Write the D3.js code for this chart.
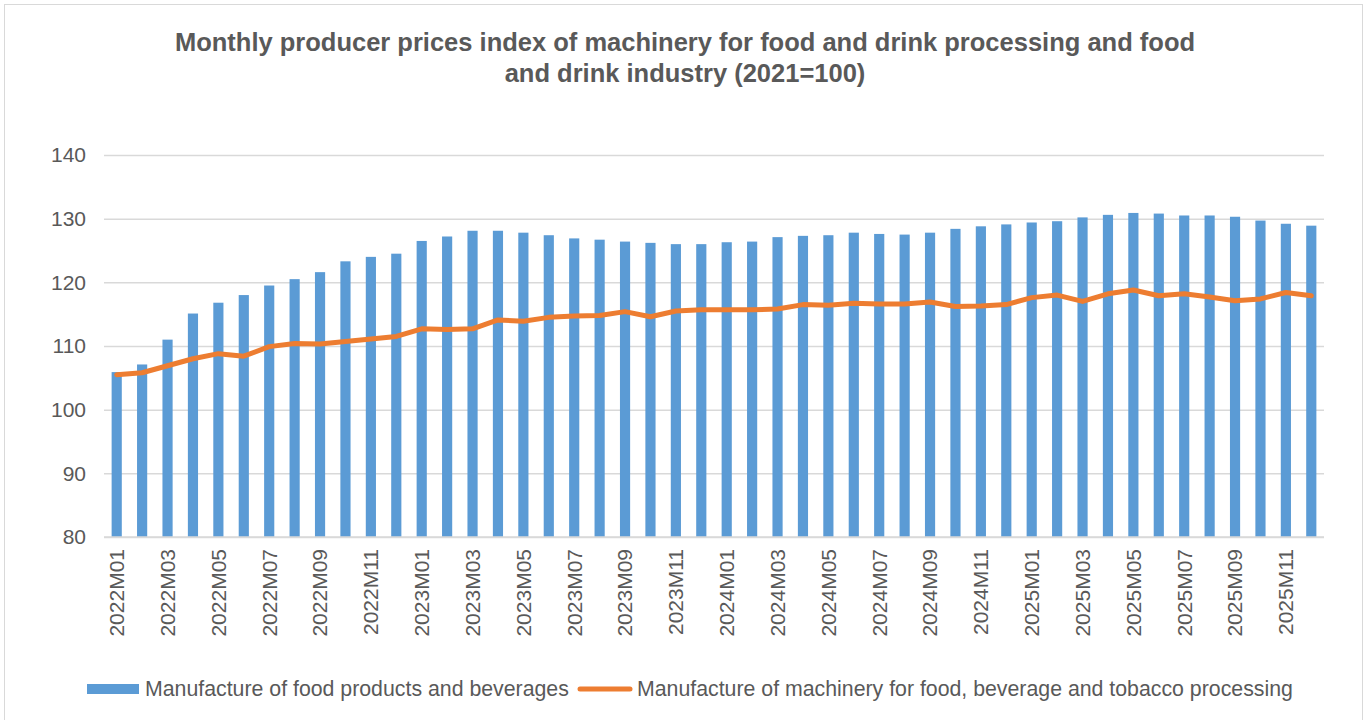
<!DOCTYPE html>
<html>
<head>
<meta charset="utf-8">
<script src="https://cdn.jsdelivr.net/npm/d3@7"></script>
<style>
  body { margin: 0; background: #fff; }
  text { font-family: "Liberation Sans", Arial, sans-serif; fill: #595959; }
</style>
</head>
<body>
<svg width="1369" height="720"></svg>
<script>
// months 2022M01..2025M12
var months = [
  "2022M01","2022M02","2022M03","2022M04","2022M05","2022M06","2022M07","2022M08","2022M09","2022M10","2022M11","2022M12",
  "2023M01","2023M02","2023M03","2023M04","2023M05","2023M06","2023M07","2023M08","2023M09","2023M10","2023M11","2023M12",
  "2024M01","2024M02","2024M03","2024M04","2024M05","2024M06","2024M07","2024M08","2024M09","2024M10","2024M11","2024M12",
  "2025M01","2025M02","2025M03","2025M04","2025M05","2025M06","2025M07","2025M08","2025M09","2025M10","2025M11","2025M12"
];

// Manufacture of food products and beverages (bars)
var foodValues = [
  105.9, 107.1, 111.0, 115.1, 116.8, 118.0, 119.5, 120.5, 121.6, 123.3, 124.0, 124.5,
  126.5, 127.2, 128.1, 128.1, 127.8, 127.4, 126.9, 126.7, 126.4, 126.2, 126.0, 126.0,
  126.3, 126.4, 127.1, 127.3, 127.4, 127.8, 127.6, 127.5, 127.8, 128.4, 128.8, 129.1,
  129.4, 129.6, 130.2, 130.6, 130.9, 130.8, 130.5, 130.5, 130.3, 129.7, 129.2, 128.9
];

// Manufacture of machinery for food, beverage and tobacco processing (line)
var machineryValues = [
  105.5, 105.8, 106.9, 108.0, 108.8, 108.4, 109.9, 110.4, 110.3, 110.7, 111.1, 111.5,
  112.7, 112.6, 112.7, 114.1, 113.9, 114.5, 114.7, 114.8, 115.4, 114.6, 115.5, 115.7,
  115.7, 115.7, 115.8, 116.5, 116.4, 116.7, 116.6, 116.6, 116.9, 116.2, 116.3, 116.5,
  117.6, 118.0, 117.0, 118.2, 118.8, 117.9, 118.2, 117.7, 117.1, 117.4, 118.4, 117.9
];

var yTicks = [80, 90, 100, 110, 120, 130, 140];

var titleLines = [
  "Monthly producer prices index of machinery for food and drink processing and food",
  "and drink industry (2021=100)"
];
var seriesNames = [
  "Manufacture of food products and beverages",
  "Manufacture of machinery for food, beverage and tobacco processing"
];

var data = months.map(function(m, i) {
  return { month: m, food: foodValues[i], mach: machineryValues[i] };
});

var svg = d3.select("svg"),
    margin = {top: 155, right: 45, bottom: 183, left: 104},
    width = 1369 - margin.left - margin.right,
    height = 720 - margin.top - margin.bottom;

// outer frame
svg.append("rect")
  .attr("x", 4.5).attr("y", 4.5)
  .attr("width", 1358).attr("height", 730)
  .attr("fill", "none").attr("stroke", "#d9d9d9").attr("stroke-width", 1);

var x = d3.scaleBand()
  .domain(months)
  .range([0, width])
  .paddingInner(0.6)
  .paddingOuter(0.3);

var y = d3.scaleLinear()
  .domain([80, 140])
  .range([height, 0]);

var g = svg.append("g")
  .attr("transform", "translate(" + margin.left + "," + margin.top + ")");

// gridlines + y labels
var yAxis = g.append("g")
  .call(d3.axisLeft(y).tickValues(yTicks).tickSize(-width).tickPadding(18));
yAxis.select(".domain").remove();
yAxis.selectAll("line").attr("stroke", "#d9d9d9").attr("stroke-width", 1.5);
yAxis.selectAll("text").style("font-size", "21px").attr("fill", "#595959");

// bars
g.selectAll(".bar")
  .data(data)
  .enter().append("rect")
  .attr("class", "bar")
  .attr("x", function(d) { return x(d.month); })
  .attr("width", x.bandwidth())
  .attr("y", function(d) { return y(d.food); })
  .attr("height", function(d) { return height - y(d.food); })
  .attr("fill", "#5b9bd5");

// line
var line = d3.line()
  .x(function(d) { return x(d.month) + x.bandwidth() / 2; })
  .y(function(d) { return y(d.mach); });

g.append("path")
  .datum(data)
  .attr("d", line)
  .attr("fill", "none")
  .attr("stroke", "#ed7d31")
  .attr("stroke-width", 5)
  .attr("stroke-linejoin", "round")
  .attr("stroke-linecap", "round");

// x axis
var xAxis = g.append("g")
  .attr("transform", "translate(0," + height + ")")
  .call(d3.axisBottom(x)
    .tickValues(months.filter(function(m, i) { return i % 2 === 0; }))
    .tickSize(0));
xAxis.select(".domain").attr("stroke", "#d9d9d9").attr("stroke-width", 1.5)
  .attr("d", "M0,0H" + width);
xAxis.selectAll("text")
  .attr("transform", "rotate(-90)")
  .attr("text-anchor", "end")
  .attr("x", -12)
  .attr("y", 0)
  .attr("dy", "0.35em")
  .style("font-size", "21px")
  .attr("fill", "#595959");

// title
svg.append("g").selectAll("text")
  .data(titleLines)
  .enter().append("text")
  .attr("x", 685)
  .attr("y", function(d, i) { return 51 + i * 31; })
  .attr("text-anchor", "middle")
  .style("font-size", "25.5px")
  .style("font-weight", "bold")
  .text(function(d) { return d; });

// legend
var leg = svg.append("g").attr("transform", "translate(0,689)");
leg.append("rect")
  .attr("x", 87).attr("y", -5).attr("width", 52).attr("height", 10)
  .attr("fill", "#5b9bd5");
leg.append("text")
  .attr("x", 145).attr("y", 0).attr("dy", "0.35em")
  .style("font-size", "21.3px")
  .text(seriesNames[0]);
leg.append("line")
  .attr("x1", 580).attr("x2", 630).attr("y1", 0).attr("y2", 0)
  .attr("stroke", "#ed7d31").attr("stroke-width", 5).attr("stroke-linecap", "round");
leg.append("text")
  .attr("x", 637).attr("y", 0).attr("dy", "0.35em")
  .style("font-size", "21.3px")
  .text(seriesNames[1]);
</script>
</body>
</html>
